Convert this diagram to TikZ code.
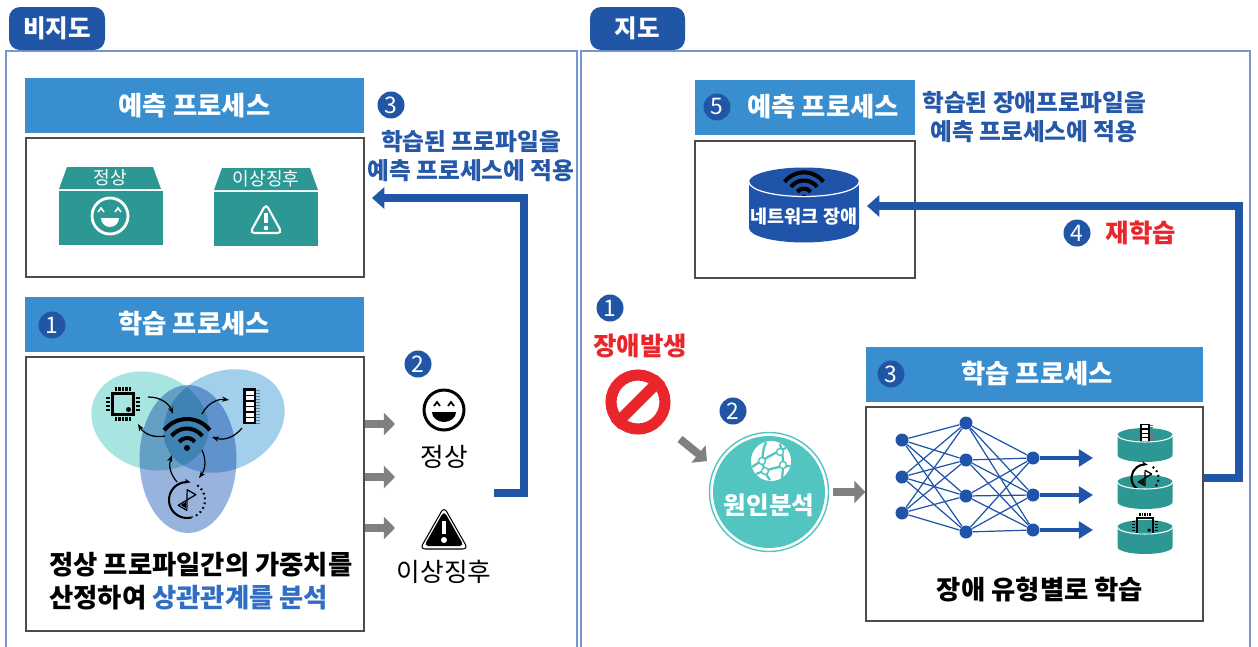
\documentclass[tikz,border=0pt]{standalone}
\usepackage{fontspec}
\setmainfont{Noto Sans CJK KR}
\usetikzlibrary{arrows.meta, fit, positioning}

\definecolor{tabblue}{RGB}{33,86,166}
\definecolor{headblue}{RGB}{56,142,206}
\definecolor{framecol}{RGB}{118,150,208}
\definecolor{boxteal}{RGB}{45,152,147}
\definecolor{alarmred}{RGB}{233,38,43}
\definecolor{arrowgray}{RGB}{128,128,130}
\definecolor{causeteal}{RGB}{83,197,193}
\definecolor{textblue}{RGB}{37,88,168}
\definecolor{linkblue}{RGB}{47,110,195}
\definecolor{netblue}{RGB}{32,84,170}
\definecolor{venna}{RGB}{168,228,224}
\definecolor{vennb}{RGB}{162,207,236}
\definecolor{vennc}{RGB}{152,180,222}

\tikzset{
    chip/.pic={
        \draw[line width=1.4pt] (-10.5,-10.5) rectangle (10.5,10.5);
        \fill (5.5,5.5) circle[radius=0.05cm];
        \foreach \pin in {-7,-3.5,0,3.5,7} {
            \fill (\pin-1.1,-17) rectangle (\pin+1.1,-13);
            \fill (\pin-1.1,13) rectangle (\pin+1.1,17);
        }
        \foreach \pin in {-6,-2,2,6} {
            \fill (-17,\pin-1.1) rectangle (-13,\pin+1.1);
            \fill (13,\pin-1.1) rectangle (17,\pin+1.1);
        }
    },
    memory/.pic={
        \fill (-7,-18) rectangle (6,18);
        \foreach \row in {0,...,5}
            \fill[white] (-4.5,-15.5+5.5*\row) rectangle (3.5,-11.5+5.5*\row);
        \foreach \row in {-16,-13,...,17}
            \draw[black!55, line width=0.3pt] (6,\row) -- (10,\row);
    },
    timer/.pic={
        \draw[line width=1.2pt, -{Stealth[length=3.5pt]}] (285:0.36cm)
            arc[start angle=285, end angle=78, radius=0.36cm];
        \draw[line width=1.2pt, dash pattern=on 1pt off 1.8pt] (55:0.36cm)
            arc[start angle=55, end angle=-72, radius=0.36cm];
        \begin{scope}[rotate=-30]
            \draw[line width=0.7pt, line join=round] (-5,-9) -- (5,-9) -- (-5,9) -- (5,9) -- cycle;
            \fill (0,2.5) -- (-3,7.5) -- (3,7.5) -- cycle;
        \end{scope}
    },
    wifi/.pic={
        \fill (0,0) circle[radius=1.7pt];
        \foreach \rad in {0.2,0.39,0.58}
            \draw[line width=2.3pt] (38:\rad cm) arc[start angle=38, end angle=142, radius=\rad cm];
    },
    globe/.pic={
        \fill[white] (0,0) circle[radius=0.4cm];
        \draw[causeteal, line width=1.3pt]
            (-19,6) .. controls (-6,-3) and (6,-9) .. (15,-13)
            (-5,-19) .. controls (-11,-5) and (-9,9) .. (-1,19)
            (-15,13) .. controls (-2,8) and (9,5) .. (19,5)
            (9,-17) .. controls (12,-6) and (13,2) .. (11,17);
        \foreach \spot in {(-9,0),(9,-9),(-6,10),(12,4)}
            \draw[causeteal, fill=white, line width=0.8pt] \spot circle[radius=0.07cm];
    },
    pics/bucket/.style 2 args={code={
        \fill[boxteal] (0,0) ellipse[x radius=0.55cm, y radius=0.14cm];
        \pic[scale=0.75] at (0,#2) {#1};
        \fill[boxteal] (-27.5,0) arc[start angle=180, end angle=360, x radius=0.55cm, y radius=0.14cm]
            -- (27.5,20) arc[start angle=0, end angle=-180, x radius=0.55cm, y radius=0.14cm] -- cycle;
        \draw[white, line width=0.6pt] (-27.5,0) arc[start angle=180, end angle=360, x radius=0.55cm, y radius=0.14cm];
    }}
}

\begin{document}
\begin{tikzpicture}[x=0.02cm, y=-0.02cm,
    tab/.style={fill=tabblue, rounded corners=0.22cm, inner sep=0},
    tabtext/.style={text=white, font=\bfseries\fontsize{14}{16}\selectfont},
    header/.style={fill=headblue, inner sep=0},
    headtext/.style={text=white, font=\bfseries\fontsize{15}{17}\selectfont},
    panel/.style={draw=black!70, line width=0.7pt, inner sep=0},
    frame/.style={draw=framecol, line width=0.8pt},
    badge/.style={circle, fill=tabblue, text=white, minimum size=0.54cm, inner sep=0, font=\fontsize{13}{13}\selectfont},
    note/.style={text=textblue, align=center, font=\bfseries\fontsize{13.5}{17}\selectfont},
    caption/.style={font=\bfseries\fontsize{15}{18.8}\selectfont},
    plain/.style={font=\fontsize{14.6}{17}\selectfont},
    lid/.style={text=white, font=\fontsize{10.3}{11}\selectfont},
    alarm/.style={text=alarmred, font=\bfseries\fontsize{14.5}{17}\selectfont},
    flow/.style={draw=tabblue, line width=4.3pt, -{Triangle[length=7pt, width=12pt]}},
    feed/.style={draw=arrowgray, line width=4.5pt, -{Triangle[length=6.3pt, width=12.5pt]}},
    link/.style={line width=0.7pt, -{Stealth[length=4pt]}},
    neuron/.style={circle, fill=netblue, minimum size=0.26cm, inner sep=0},
    synapse/.style={draw=netblue, line width=0.7pt},
    netout/.style={draw=netblue, line width=1.8pt, -{Triangle[length=8pt, width=9.5pt]}}
]
    \useasboundingbox (0,0) rectangle (1258,646);
    \clip (0,0) rectangle (1258,646);

    % two panels with their tabs
    \draw[frame] (6,51) rectangle (577,660);
    \draw[frame] (581,51) rectangle (1250,660);
    \node[tab, fit={(9,7) (105,50)}] (unsup) {};
    \node[tabtext] at (unsup) {비지도};
    \node[tab, fit={(590,7) (685,50)}] (sup) {};
    \node[tabtext] at (sup) {지도};

    % ---- left: predict
    \node[header, fit={(25,78) (364,133)}] (predhead) {};
    \node[headtext] at (predhead) {예측 프로세스};
    \node[panel, fit={(26,138) (364,277)}] (predbox) {};

    \fill[boxteal] (67,167) -- (153,167) -- (161,189) -- (59,189) -- cycle;
    \fill[boxteal] (59,191) rectangle (163,245);
    \node[lid] (oklid) at (110,178) {정상};
    \begin{scope}[shift={(110,216)}, white]
        \draw[line width=1.6pt] (0,0) circle[radius=0.36cm];
        \draw[line width=0.9pt] (-12,-4) -- (-9,-8) -- (-6,-4) (5,-4) -- (8,-8) -- (11,-4);
        \fill (-9,2) arc[start angle=180, end angle=360, radius=0.18cm] -- cycle;
    \end{scope}

    \fill[boxteal] (222,168) -- (310,168) -- (318,190) -- (214,190) -- cycle;
    \fill[boxteal] (214,192) rectangle (318,246);
    \node[lid] (badlid) at (266,179) {이상징후};
    \begin{scope}[shift={(266,220)}, white]
        \draw[line width=1.2pt, rounded corners=2.5pt] (0,-16) -- (16,13) -- (-16,13) -- cycle;
        \draw[line width=2pt] (0,-7) -- (0,3);
        \fill (0,8) circle[radius=1.3pt];
    \end{scope}

    \node[badge] (b3) at (391,105) {3};
    \node[note] (applyL) at (471,156) {학습된 프로파일을\\예측 프로세스에 적용};

    % ---- left: learn
    \node[header, fit={(25,297) (364,352)}] (learnhead) {};
    \node[headtext] at (194,324) {학습 프로세스};
    \node[badge] (b1) at (52,325) {1};
    \node[panel, fit={(26,357) (364,631)}] (learnbox) {};

    \begin{scope}[blend group=multiply]
        \fill[venna, rotate around={-20:(150,421)}] (150,421) ellipse[x radius=1.2cm, y radius=0.96cm];
        \fill[vennb, rotate around={25:(224,421)}] (224,421) ellipse[x radius=1.26cm, y radius=0.98cm];
        \fill[vennc] (188,459) ellipse[x radius=0.97cm, y radius=1.48cm];
    \end{scope}
    \pic at (123,404) {chip};
    \pic at (250,406) {memory};
    \pic at (187,448) {wifi};
    \pic at (187,500) {timer};
    \draw[link] (148,397) to[bend left=35] (173,414);
    \draw[link] (165,436) to[bend left=35] (138,424);
    \draw[link] (202,414) to[bend left=35] (229,400);
    \draw[link] (242,428) to[bend left=35] (212,437);
    \draw[link] (177,482) to[bend left=30] (172,455);
    \draw[link] (202,450) to[bend left=30] (199,478);

    \node[caption, anchor=west, align=left, inner sep=0] (weights) at (49,581)
        {정상 프로파일간의 가중치를\\산정하여 \textcolor{linkblue}{상관관계를 분석}};

    \coordinate (out1) at (395,424);
    \coordinate (out2) at (395,477);
    \coordinate (out3) at (395,528);
    \foreach \out in {out1,out2,out3}
        \draw[feed] (learnbox.east |- \out) -- (\out);

    \node[badge] (b2) at (418,364) {2};
    \begin{scope}[shift={(444,410)}]
        \draw[line width=1.7pt] (0,0) circle[radius=0.4cm];
        \draw[line width=1pt] (-10,-4) -- (-7,-8) -- (-4,-4) (4,-4) -- (7,-8) -- (10,-4);
        \fill (-12,2) arc[start angle=180, end angle=360, x radius=0.24cm, y radius=0.2cm] -- cycle;
    \end{scope}
    \node[plain] (okout) at (444,457) {정상};
    \begin{scope}[shift={(444,530)}]
        \draw[line width=0.6pt, rounded corners=3pt] (0,-23) -- (24,19) -- (-24,19) -- cycle;
        \fill[rounded corners=2.5pt] (0,-19) -- (20,16) -- (-20,16) -- cycle;
        \draw[white, line width=2.6pt] (0,-9) -- (0,4);
        \fill[white] (0,10) circle[radius=1.7pt];
    \end{scope}
    \node[plain] (badout) at (444,572) {이상징후};

    \coordinate (retL) at (494,493);
    \coordinate (intoL) at (372,198);
    \draw[flow] (retL) -| (524,198) -- (intoL);

    % ---- right: predict
    \node[header, fit={(695,80) (915,135)}] (predhead2) {};
    \node[badge] (b5) at (717,107) {5};
    \node[headtext] at (823,107) {예측 프로세스};
    \node[panel, fit={(695,141) (915,278)}] (predbox2) {};

    \fill[netblue] (804,182) ellipse[x radius=1.1cm, y radius=0.29cm];
    \pic[scale=0.85] at (804,197) {wifi};
    \fill[netblue] (749,182) arc[start angle=180, end angle=360, x radius=1.1cm, y radius=0.29cm]
        -- (859,228) arc[start angle=0, end angle=-180, x radius=1.1cm, y radius=0.29cm] -- cycle;
    \draw[white, line width=0.7pt] (749,182) arc[start angle=180, end angle=360, x radius=1.1cm, y radius=0.29cm];
    \node[text=white, font=\bfseries\fontsize{10.5}{11}\selectfont] (netfail) at (804,217) {네트워크 장애};

    \node[note] (applyR) at (1034,117) {학습된 장애프로파일을\\예측 프로세스에 적용};

    % ---- right: fault and cause
    \node[badge] (b1r) at (610,308) {1};
    \node[alarm] (fault) at (640,346) {장애발생};
    \node[circle, draw=alarmred, line width=6.3pt, minimum size=1.08cm, inner sep=0] (stop) at (638,402) {};
    \draw[alarmred, line width=6.3pt] (stop.45) -- (stop.225);

    \node[badge] (b2r) at (733,411) {2};
    \node[circle, fill=causeteal, minimum size=2.24cm, inner sep=0] (cause) at (769,492) {};
    \draw[causeteal, line width=0.8pt] (cause) circle[radius=1.19cm];
    \pic at (771,461) {globe};
    \node[text=white, font=\bfseries\fontsize{14}{16}\selectfont] (causetxt) at (769,505) {원인분석};
    \coordinate (diagA) at (680,439);
    \coordinate (diagB) at (707,461);
    \draw[feed] (diagA) -- (diagB);

    % ---- right: learn
    \node[header, fit={(866,347) (1203,402)}] (learnhead2) {};
    \node[badge] (b3r) at (891,374) {3};
    \node[headtext] at (1037,374) {학습 프로세스};
    \node[panel, fit={(866,407) (1203,621)}] (learnbox2) {};
    \draw[feed] ([xshift=0.16cm]cause.east) -- (learnbox2.west |- cause.east);

    \foreach \yy [count=\n] in {440,477,513}
        \node[neuron] (a\n) at (902,\yy) {};
    \foreach \yy [count=\n] in {423,460,496,532}
        \node[neuron] (h\n) at (966,\yy) {};
    \foreach \yy [count=\n] in {458,495,530}
        \node[neuron] (c\n) at (1033,\yy) {};
    \foreach \p in {1,2,3}
        \foreach \q in {1,...,4}
            \draw[synapse] (a\p) -- (h\q);
    \foreach \p in {1,...,4}
        \foreach \q in {1,2,3}
            \draw[synapse] (h\p) -- (c\q);
    \coordinate (tipline) at (1093,0);
    \foreach \q in {1,2,3}
        \draw[netout] (c\q) -- (c\q -| tipline);

    \pic at (1145,435) {bucket={memory}{2}};
    \pic at (1145,482) {bucket={timer}{-4}};
    \pic at (1145,527) {bucket={chip}{-1}};

    \node[caption] (bytype) at (1040,590) {장애 유형별로 학습};

    \coordinate (retR) at (1203,478);
    \coordinate (intoR) at (867,206);
    \draw[flow] (retR) -| (1239,206) -- (intoR);
    \node[badge] (b4) at (1077,233) {4};
    \node[alarm] (relearn) at (1141,233) {재학습};
\end{tikzpicture}
\end{document}
